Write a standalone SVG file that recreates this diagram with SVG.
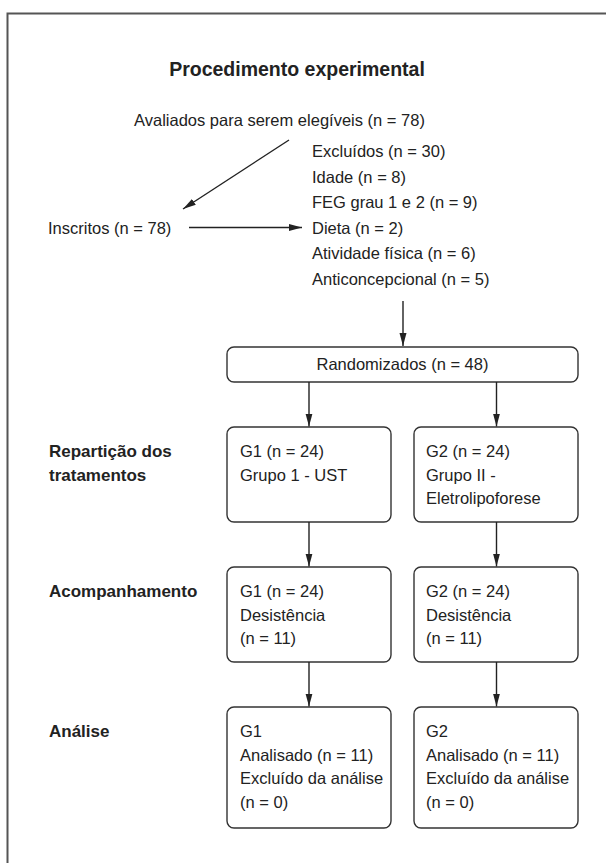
<svg xmlns="http://www.w3.org/2000/svg" width="606" height="863" viewBox="0 0 606 863">
  <style>
    .t { font-family: "Liberation Sans", Arial, sans-serif; font-size: 16.5px; fill: #222; }
    .b { font-family: "Liberation Sans", Arial, sans-serif; font-size: 17px; font-weight: bold; fill: #222; }
    .title { font-family: "Liberation Sans", Arial, sans-serif; font-size: 19.5px; font-weight: bold; fill: #222; }
    .box { fill: #fff; stroke: #333; stroke-width: 1.4; }
    .conn { stroke: #222; stroke-width: 1.4; fill: none; marker-end: url(#arr); }
  </style>
  <defs>
    <marker id="arr" markerUnits="userSpaceOnUse" markerWidth="14" markerHeight="8" refX="13" refY="3.5" orient="auto">
      <path d="M0,0 L13,3.5 L0,7 z" fill="#222"/>
    </marker>
  </defs>
  <rect width="606" height="863" fill="#fff"/>
  <path d="M7.5,863 V13.5 H606" fill="none" stroke="#555" stroke-width="2"/>

  <text class="title" x="297" y="76" text-anchor="middle">Procedimento experimental</text>

  <g id="avaliados">
    <text class="t" x="134" y="126">Avaliados para serem elegíveis (n = 78)</text>
  </g>
  <g id="excluidos">
    <text class="t" x="312" y="157">Excluídos (n = 30)</text>
    <text class="t" x="312" y="182.5">Idade (n = 8)</text>
    <text class="t" x="312" y="208">FEG grau 1 e 2 (n = 9)</text>
    <text class="t" x="312" y="233.5">Dieta (n = 2)</text>
    <text class="t" x="312" y="259">Atividade física (n = 6)</text>
    <text class="t" x="312" y="284.5">Anticoncepcional (n = 5)</text>
  </g>
  <g id="inscritos">
    <text class="t" x="48" y="233.5">Inscritos (n = 78)</text>
  </g>

  <g id="labels">
    <text class="b" x="49" y="457">Repartição dos</text>
    <text class="b" x="49" y="480.5">tratamentos</text>
    <text class="b" x="49" y="597">Acompanhamento</text>
    <text class="b" x="49" y="737">Análise</text>
  </g>

  <g id="randomizados">
    <rect class="box" x="227" y="347" width="351" height="35" rx="7"/>
    <text class="t" x="402.5" y="370" text-anchor="middle">Randomizados (n = 48)</text>
  </g>

  <g id="g1-rep">
    <rect class="box" x="227" y="427" width="164" height="95" rx="7"/>
    <text class="t" x="240" y="457">G1 (n = 24)</text>
    <text class="t" x="240" y="480.5">Grupo 1 - UST</text>
  </g>
  <g id="g2-rep">
    <rect class="box" x="414" y="427" width="164" height="95" rx="7"/>
    <text class="t" x="426" y="457">G2 (n = 24)</text>
    <text class="t" x="426" y="480.5">Grupo II -</text>
    <text class="t" x="426" y="504">Eletrolipoforese</text>
  </g>

  <g id="g1-acomp">
    <rect class="box" x="227" y="567" width="164" height="95" rx="7"/>
    <text class="t" x="240" y="597">G1 (n = 24)</text>
    <text class="t" x="240" y="620.5">Desistência</text>
    <text class="t" x="240" y="644">(n = 11)</text>
  </g>
  <g id="g2-acomp">
    <rect class="box" x="414" y="567" width="164" height="95" rx="7"/>
    <text class="t" x="426" y="597">G2 (n = 24)</text>
    <text class="t" x="426" y="620.5">Desistência</text>
    <text class="t" x="426" y="644">(n = 11)</text>
  </g>

  <g id="g1-analise">
    <rect class="box" x="227" y="707" width="164" height="121" rx="7"/>
    <text class="t" x="240" y="737">G1</text>
    <text class="t" x="240" y="760.5">Analisado (n = 11)</text>
    <text class="t" x="240" y="784">Excluído da análise</text>
    <text class="t" x="240" y="807.5">(n = 0)</text>
  </g>
  <g id="g2-analise">
    <rect class="box" x="414" y="707" width="164" height="121" rx="7"/>
    <text class="t" x="426" y="737">G2</text>
    <text class="t" x="426" y="760.5">Analisado (n = 11)</text>
    <text class="t" x="426" y="784">Excluído da análise</text>
    <text class="t" x="426" y="807.5">(n = 0)</text>
  </g>

  <g id="connectors">
    <line class="conn" x1="289" y1="140" x2="183" y2="209"/>
    <line class="conn" x1="189" y1="227.5" x2="302" y2="227.5"/>
    <line class="conn" x1="403" y1="301" x2="403" y2="346"/>
    <line class="conn" x1="309" y1="382" x2="309" y2="426.5"/>
    <line class="conn" x1="496.5" y1="382" x2="496.5" y2="426.5"/>
    <line class="conn" x1="309" y1="522" x2="309" y2="566.5"/>
    <line class="conn" x1="496.5" y1="522" x2="496.5" y2="566.5"/>
    <line class="conn" x1="309" y1="662" x2="309" y2="706.5"/>
    <line class="conn" x1="496.5" y1="662" x2="496.5" y2="706.5"/>
  </g>
</svg>
